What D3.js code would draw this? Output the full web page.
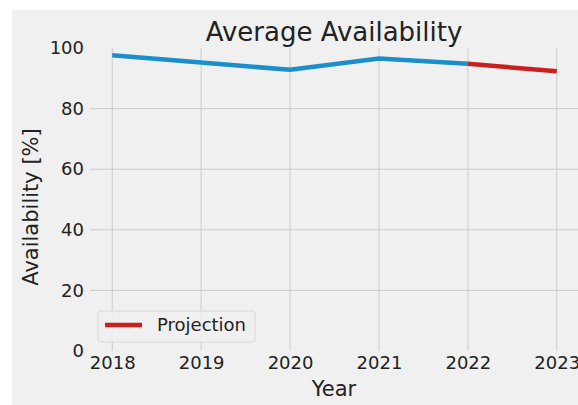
<!DOCTYPE html>
<html>
<head>
<meta charset="utf-8">
<script src="https://cdn.jsdelivr.net/npm/d3@7"></script>
<style>
  html, body { margin: 0; padding: 0; background: #ffffff; }
  svg { display: block; font-family: "DejaVu Sans", sans-serif; }
</style>
</head>
<body>
<svg id="chart" width="578" height="405"></svg>
<script>
const years = [2018, 2019, 2020, 2021, 2022, 2023];
const actualYears = [2018, 2019, 2020, 2021, 2022];
const actualValues = [97.6, 95.2, 92.8, 96.5, 94.8];
const projectionYears = [2022, 2023];
const projectionValues = [94.8, 92.3];
const yTicks = [0, 20, 40, 60, 80, 100];

const W = 578, H = 405;
const plot = { left: 90, right: 579, top: 48, bottom: 351 };

const svg = d3.select("#chart");

// figure background
svg.append("rect").attr("x", 12).attr("y", 10).attr("width", W - 12).attr("height", H - 10).attr("fill", "#f0f0f0");

const x = d3.scaleLinear().domain([2017.75, 2023.25]).range([plot.left, plot.right]);
const y = d3.scaleLinear().domain([0, 100]).range([plot.bottom, plot.top]);

// grid
const grid = svg.append("g");
grid.selectAll("line.v").data(years).join("line")
  .attr("x1", d => x(d)).attr("x2", d => x(d))
  .attr("y1", plot.top).attr("y2", plot.bottom)
  .attr("stroke", "#cbcbcb").attr("stroke-width", 1);
grid.selectAll("line.h").data(yTicks.filter(t => t > 0 && t < 100)).join("line")
  .attr("x1", plot.left).attr("x2", plot.right)
  .attr("y1", d => y(d)).attr("y2", d => y(d))
  .attr("stroke", "#cbcbcb").attr("stroke-width", 1);

// axes (labels only, no lines)
const xAxis = svg.append("g").attr("transform", `translate(0,${plot.bottom})`)
  .call(d3.axisBottom(x).tickValues(years).tickFormat(d3.format("d")).tickSize(0).tickPadding(5));
xAxis.select(".domain").remove();
xAxis.selectAll("text").attr("font-size", "18px").attr("fill", "#222").attr("font-family", "DejaVu Sans");

const yAxis = svg.append("g").attr("transform", `translate(${plot.left},0)`)
  .call(d3.axisLeft(y).tickValues(yTicks).tickFormat(d3.format("d")).tickSize(0).tickPadding(6));
yAxis.select(".domain").remove();
yAxis.selectAll("text").attr("font-size", "18px").attr("fill", "#222").attr("font-family", "DejaVu Sans");

// lines
const line = d3.line().x(d => x(d[0])).y(d => y(d[1]));
svg.append("path")
  .datum(actualYears.map((yr, i) => [yr, actualValues[i]]))
  .attr("d", line).attr("fill", "none")
  .attr("stroke", "#1b8fcc").attr("stroke-width", 4.5);
svg.append("path")
  .datum(projectionYears.map((yr, i) => [yr, projectionValues[i]]))
  .attr("d", line).attr("fill", "none")
  .attr("stroke", "#c8201e").attr("stroke-width", 4.5);

// title
svg.append("text").attr("x", 334).attr("y", 41)
  .attr("text-anchor", "middle").attr("font-size", "26px").attr("fill", "#222")
  .text("Average Availability");

// axis labels
svg.append("text").attr("x", 334).attr("y", 396)
  .attr("text-anchor", "middle").attr("font-size", "21px").attr("fill", "#222")
  .text("Year");
svg.append("text")
  .attr("transform", `translate(38,207) rotate(-90)`)
  .attr("text-anchor", "middle").attr("font-size", "21px").attr("fill", "#222")
  .text("Availability [%]");

// legend
const lg = svg.append("g");
lg.append("rect").attr("x", 98).attr("y", 311).attr("width", 157).attr("height", 31)
  .attr("rx", 3).attr("fill", "#f0f0f0").attr("fill-opacity", 0.8)
  .attr("stroke", "#d8d8d8").attr("stroke-width", 1);
lg.append("line").attr("x1", 105).attr("x2", 142).attr("y1", 325).attr("y2", 325)
  .attr("stroke", "#c8201e").attr("stroke-width", 4.5);
lg.append("text").attr("x", 157).attr("y", 331).attr("font-size", "18px").attr("fill", "#222")
  .text("Projection");
</script>
</body>
</html>
